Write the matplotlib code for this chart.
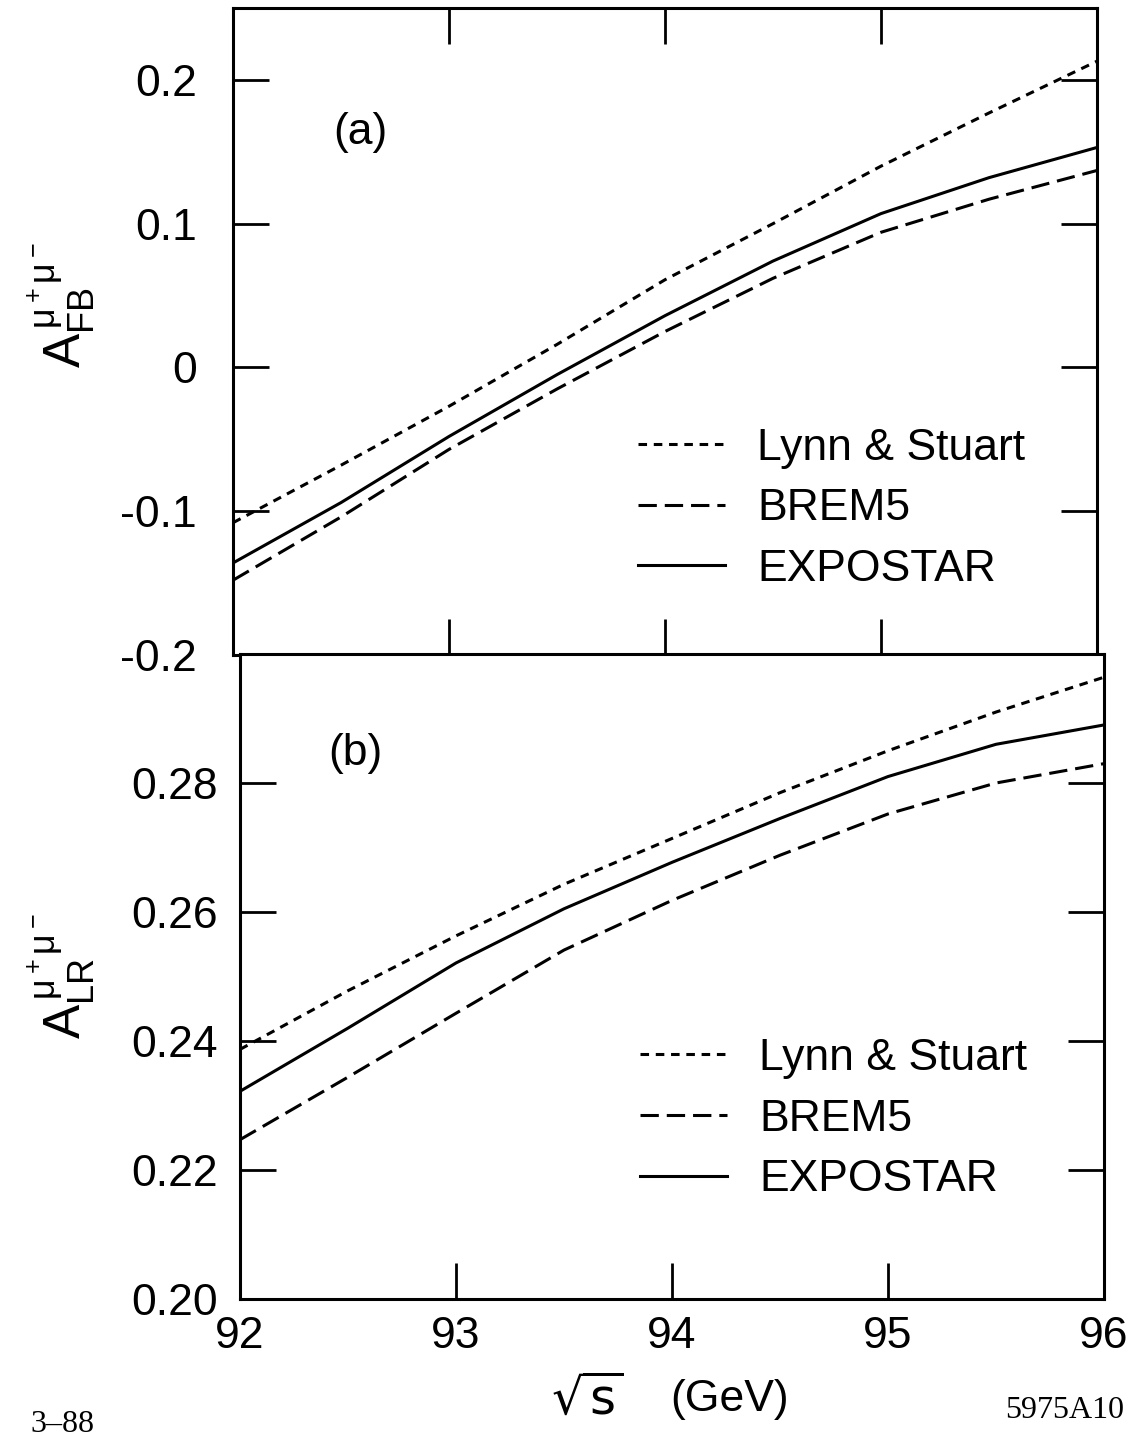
import matplotlib
matplotlib.use("Agg")
import matplotlib.pyplot as plt

plt.rcParams['font.family'] = ['Liberation Sans', 'DejaVu Sans']
plt.rcParams['mathtext.fontset'] = 'custom'
plt.rcParams['mathtext.rm'] = 'Liberation Sans'
plt.rcParams['mathtext.it'] = 'Liberation Sans'
plt.rcParams['mathtext.sf'] = 'Liberation Sans'
plt.rcParams['mathtext.default'] = 'rm'

# sqrt(s) in GeV
energy = [92.0, 92.5, 93.0, 93.5, 94.0, 94.5, 95.0, 95.5, 96.0]

# (a) forward-backward asymmetry
afb_lynn  = [-0.108, -0.068, -0.027, 0.016, 0.061, 0.100, 0.140, 0.177, 0.213]
afb_brem5 = [-0.148, -0.104, -0.057, -0.015, 0.025, 0.062, 0.094, 0.117, 0.137]
afb_expo  = [-0.136, -0.094, -0.048, -0.005, 0.036, 0.074, 0.107, 0.132, 0.153]

# (b) left-right asymmetry
alr_lynn  = [0.2387, 0.2478, 0.2563, 0.2643, 0.2714, 0.2785, 0.2850, 0.2910, 0.2964]
alr_brem5 = [0.2247, 0.2344, 0.2443, 0.2541, 0.2618, 0.2688, 0.2752, 0.2800, 0.2830]
alr_expo  = [0.2322, 0.2420, 0.2521, 0.2605, 0.2677, 0.2745, 0.2810, 0.2860, 0.2890]

labels = ['Lynn & Stuart', 'BREM5', 'EXPOSTAR']
dash_lynn = (0, (2.8, 2.2))
dash_brem = (0, (6.0, 2.6))

fig = plt.figure(figsize=(11.32, 14.4), dpi=100)
W, H = 1132.0, 1440.0
ax1 = fig.add_axes([233/W, 1-655/H, 864/W, 647/H])
ax2 = fig.add_axes([240/W, 1-1299/H, 864/W, 645/H])

lw = 2.2
fs = 32


def style(ax, top_ticks):
    for sp in ax.spines.values():
        sp.set_linewidth(2.2)
    ax.tick_params(direction='in', length=26, width=2.0, labelsize=fs,
                   right=True, top=top_ticks)
    ax.set_xlim(92, 96)
    ax.set_xticks([92, 93, 94, 95, 96])


def add_legend(ax, x, y):
    ax.legend(loc='center left', bbox_to_anchor=(x, y), frameon=False,
              fontsize=fs, handlelength=1.96, handletextpad=0.72,
              labelspacing=0.44, borderpad=0, borderaxespad=0)


# top panel
ax1.plot(energy, afb_lynn, color='black', lw=lw, linestyle=dash_lynn, label=labels[0])
ax1.plot(energy, afb_brem5, color='black', lw=lw, linestyle=dash_brem, label=labels[1])
ax1.plot(energy, afb_expo, color='black', lw=lw, linestyle='-', label=labels[2])
style(ax1, True)
ax1.set_ylim(-0.2, 0.25)
ax1.set_yticks([-0.2, -0.1, 0, 0.1, 0.2])
ax1.set_yticklabels(['-0.2', '-0.1', '0', '0.1', '0.2'])
ax1.tick_params(axis='y', pad=26)
ax1.tick_params(axis='x', labelbottom=False)
ax1.text(0.148, 0.808, '(a)', transform=ax1.transAxes, fontsize=fs,
         ha='center', va='center')
ax1.set_ylabel(r'$\mathrm{A}^{\,\mu^+\mu^-}_{\mathrm{FB}}$', fontsize=37)
ax1.yaxis.set_label_coords(-0.157, 0.54)
add_legend(ax1, 0.469, 0.226)

# bottom panel
ax2.plot(energy, alr_lynn, color='black', lw=lw, linestyle=dash_lynn, label=labels[0])
ax2.plot(energy, alr_brem5, color='black', lw=lw, linestyle=dash_brem, label=labels[1])
ax2.plot(energy, alr_expo, color='black', lw=lw, linestyle='-', label=labels[2])
style(ax2, False)
ax2.set_ylim(0.20, 0.30)
ax2.set_yticks([0.20, 0.22, 0.24, 0.26, 0.28])
ax2.set_yticklabels(['0.20', '0.22', '0.24', '0.26', '0.28'])
ax2.tick_params(axis='y', pad=16)
ax2.tick_params(axis='x', pad=12)
ax2.text(0.133, 0.845, '(b)', transform=ax2.transAxes, fontsize=fs,
         ha='center', va='center')
ax2.set_ylabel(r'$\mathrm{A}^{\,\mu^+\mu^-}_{\mathrm{LR}}$', fontsize=37)
ax2.yaxis.set_label_coords(-0.165, 0.50)
add_legend(ax2, 0.463, 0.279)

# x axis title: sqrt(s) and unit
fig.text(587/W, 1-1400/H, r'$\sqrt{\mathsf{s}}$', fontsize=36,
         math_fontfamily='dejavusans', ha='center', va='center')
fig.text(730/W, 1-1400/H, '(GeV)', fontsize=fs, ha='center', va='center')

fig.text(30/W, 1-1424/H, '3\u201388', family='Liberation Serif', fontsize=23,
         ha='left', va='center')
fig.text(1124/W, 1-1410/H, '5975A10', family='Liberation Serif', fontsize=23,
         ha='right', va='center')

fig.savefig('out.png', dpi=100)
